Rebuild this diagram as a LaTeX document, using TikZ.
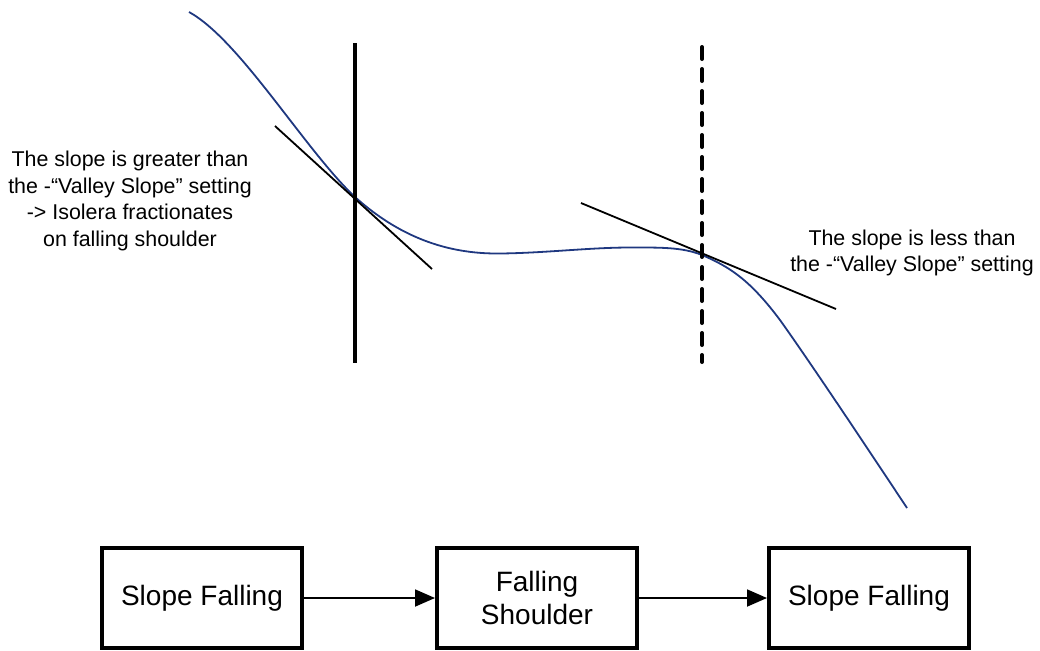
\documentclass[tikz,border=0pt]{standalone}
\usepackage{fontspec}
\setmainfont{Liberation Sans}
\usetikzlibrary{arrows.meta}
\definecolor{curveblue}{RGB}{31,56,128}
\begin{document}
\begin{tikzpicture}[x=0.5pt,y=-0.5pt,
  statebox/.style={draw,line width=2pt,minimum width=100pt,minimum height=50pt,inner sep=0pt,align=center,font=\fontsize{14}{16.5}\selectfont},
  flow/.style={line width=0.9pt,-{Triangle[length=10pt,width=8.5pt]}},
  note/.style={align=center,font=\fontsize{10.7}{13.2}\selectfont},
  tangent/.style={line width=0.9pt},
  marker/.style={line width=2pt}]
\useasboundingbox (0,0) rectangle (1040,650);
% curve
\draw[curveblue,line width=0.9pt]
  (189,12) .. controls (240,40) and (305,150) .. (355,197)
  .. controls (405,242) and (455,254) .. (500,253.5)
  .. controls (545,253) and (590,247.5) .. (630,247.5)
  .. controls (660,247.5) and (682,247) .. (702,255)
  .. controls (730,267) and (750,280) .. (780,320)
  .. controls (810,362) and (870,452) .. (907,508);
% markers
\coordinate (v1t) at (355,43);
\coordinate (v1b) at (355,363);
\draw[marker] (v1t) -- (v1b);
\coordinate (v2t) at (702,47);
\coordinate (v2b) at (702,362);
\draw[marker,line cap=round,dash pattern=on 6pt off 5pt] (v2t) -- (v2b);
% tangents
\coordinate (t1a) at (275,126);
\coordinate (t1b) at (432,269);
\draw[tangent] (t1a) -- (t1b);
\coordinate (t2a) at (581,203);
\coordinate (t2b) at (836,309);
\draw[tangent] (t2a) -- (t2b);
% notes
\node[note] (n1) at (130,201) {The slope is greater than\\the -“Valley Slope” setting\\-> Isolera fractionates\\on falling shoulder};
\node[note] (n2) at (912,253) {The slope is less than\\the -“Valley Slope” setting};
% boxes
\node[statebox] (b1) at (202,598) {Slope Falling};
\node[statebox] (b2) at (537,598) {Falling\\Shoulder};
\node[statebox] (b3) at (869,598) {Slope Falling};
\draw[flow] (b1) -- (b2);
\draw[flow] (b2) -- (b3);
\end{tikzpicture}
\end{document}
